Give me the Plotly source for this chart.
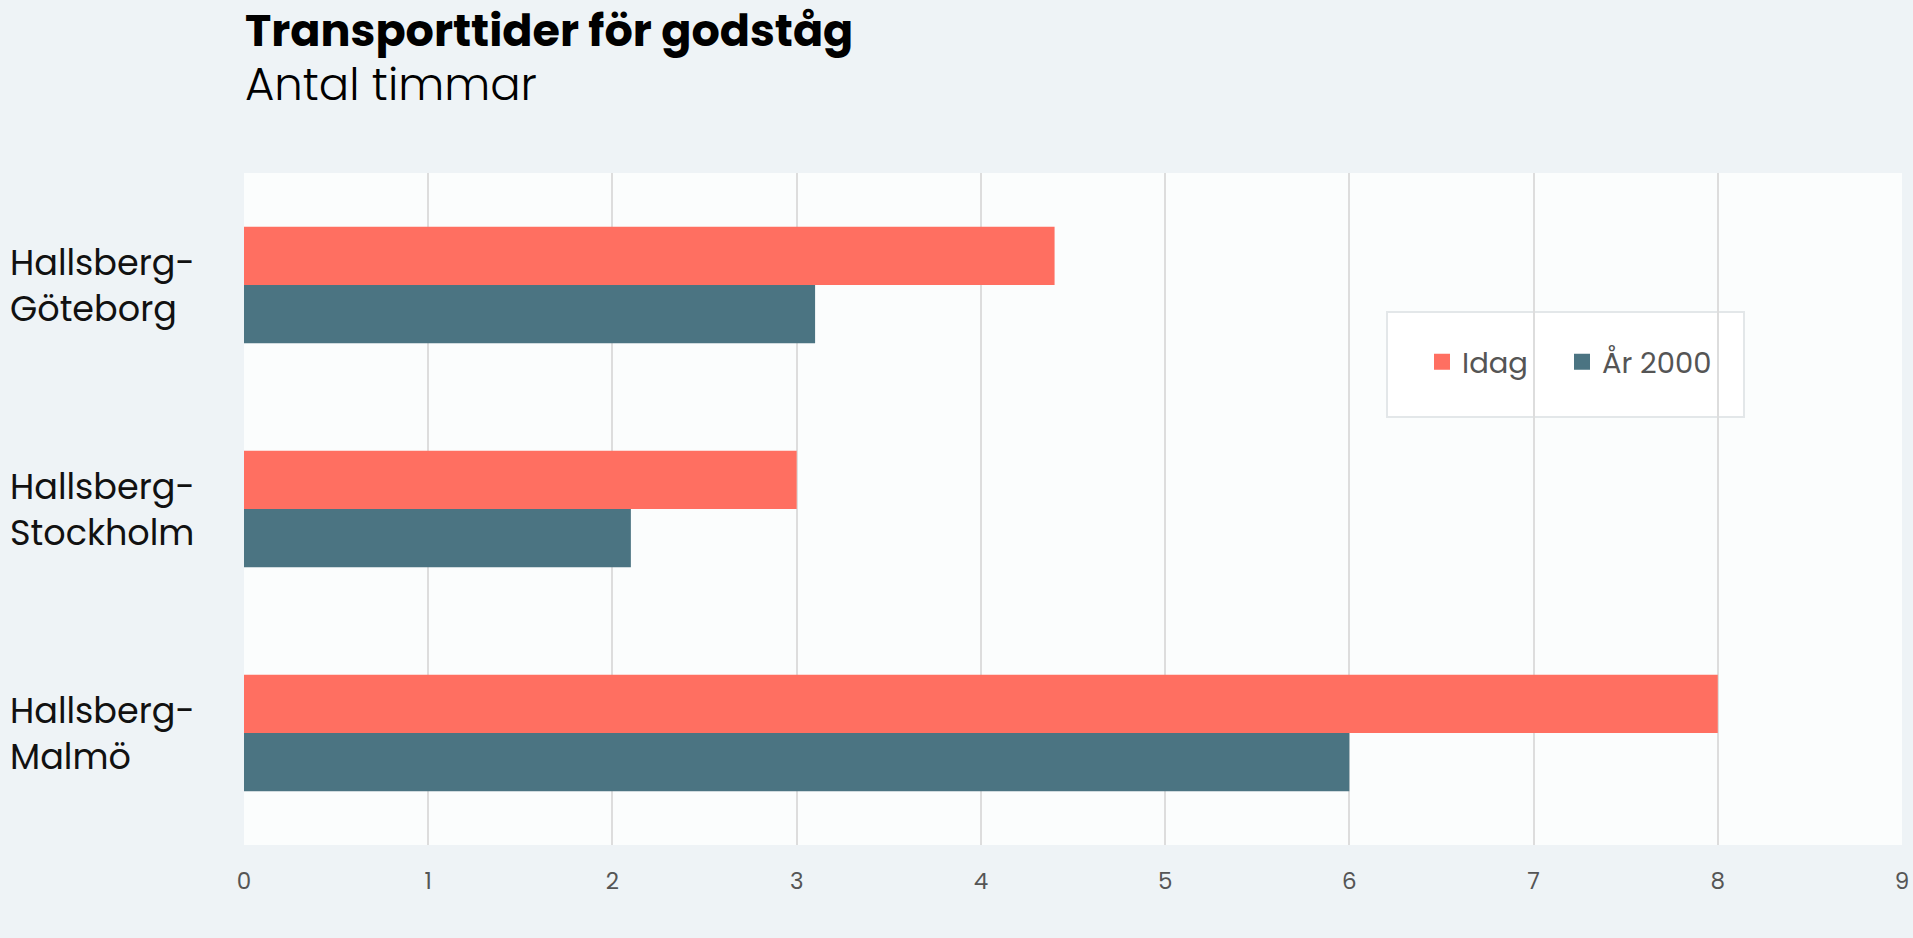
import plotly.graph_objects as go

categories = ["Hallsberg-Göteborg", "Hallsberg-Stockholm", "Hallsberg-Malmö"]
category_labels = ["Hallsberg-<br>Göteborg", "Hallsberg-<br>Stockholm", "Hallsberg-<br>Malmö"]
series_names = ["Idag", "År 2000"]
idag = [4.4, 3.0, 8.0]
ar2000 = [3.1, 2.1, 6.0]
x_ticks = [0, 1, 2, 3, 4, 5, 6, 7, 8, 9]

FONT = "Poppins, 'Open Sans', sans-serif"
COLORS = ["#ff6f61", "#4b7482"]

fig = go.Figure()
for name, vals, col in zip(series_names, [idag, ar2000], COLORS):
    fig.add_trace(go.Bar(
        y=categories, x=vals, name=name, orientation="h",
        marker=dict(color=col, line=dict(width=0)),
        legendgroup=name, showlegend=False,
        hoverinfo="x+y+name",
    ))
# legend entries (square swatches)
for name, col in zip(series_names, COLORS):
    fig.add_trace(go.Scatter(
        x=[None], y=[None], mode="markers", name=name, legendgroup=name,
        marker=dict(symbol="square", size=18, color=col), showlegend=True,
    ))
# invisible spacer entry so the last legend label is not clipped
fig.add_trace(go.Scatter(
    x=[None], y=[None], mode="markers", name=" ", hoverinfo="skip",
    marker=dict(symbol="square", size=1, color="rgba(0,0,0,0)"), showlegend=True,
))

L, R, T, B = 244, 11, 173, 93
W, H = 1913, 938
pw = W - L - R
ph = H - T - B

def px_x(p):
    return (p - L) / pw

def px_y(p):
    return (H - B - p) / ph

title_text = ("<span style='font-size:44.5px;font-weight:700'>Transporttider för godståg</span>"
              "<br><span style='font-size:45px'>Antal timmar</span>")

annotations = [
    dict(text=title_text, xref="paper", yref="paper",
         x=px_x(243), y=px_y(-3), xanchor="left", yanchor="top", align="left",
         showarrow=False,
         font=dict(family=FONT, size=41.5, color="#000000", weight=300)),
]
for cat, lab in zip(categories, category_labels):
    annotations.append(dict(
        text=lab, xref="paper", yref="y", x=px_x(8), y=cat,
        xanchor="left", yanchor="middle", align="left", showarrow=False,
        font=dict(family=FONT, size=35, color="#111111"),
    ))

fig.update_layout(
    width=W, height=H,
    margin=dict(l=L, r=R, t=T, b=B),
    paper_bgcolor="#eef3f6",
    plot_bgcolor="#fbfdfd",
    barmode="group",
    bargap=0.48,
    bargroupgap=0,
    font=dict(family=FONT),
    showlegend=True,
    legend=dict(
        orientation="h", xref="paper", yref="paper",
        x=px_x(1422), y=px_y(362), xanchor="left", yanchor="middle",
        bgcolor="rgba(0,0,0,0)", borderwidth=0,
        font=dict(family=FONT, size=29, color="#555555"),
        itemwidth=30, itemsizing="trace", traceorder="normal",
        entrywidth=95, entrywidthmode="pixels", itemclick="toggle",
    ),
    shapes=[dict(type="rect", xref="paper", yref="paper",
                 x0=px_x(1387), x1=px_x(1744), y0=px_y(417), y1=px_y(312),
                 fillcolor="#ffffff", line=dict(color="#e3e7e9", width=2),
                 layer="below")],
    annotations=annotations,
    xaxis=dict(
        range=[0, 9], tickvals=x_ticks, showgrid=True, gridcolor="#dddddd",
        gridwidth=1.5, zeroline=False, showline=False, automargin=False,
        tickfont=dict(family=FONT, size=23, color="#555555"),
        ticklabelstandoff=20, fixedrange=True,
    ),
    yaxis=dict(
        categoryorder="array", categoryarray=categories,
        autorange="reversed", showticklabels=False, showgrid=False,
        zeroline=False, showline=False, fixedrange=True, automargin=False,
    ),
)

fig.write_html(
    "out.html",
    config={"displayModeBar": False},
    post_script="document.body.style.margin='0';document.body.style.background='#eef3f6';",
)
